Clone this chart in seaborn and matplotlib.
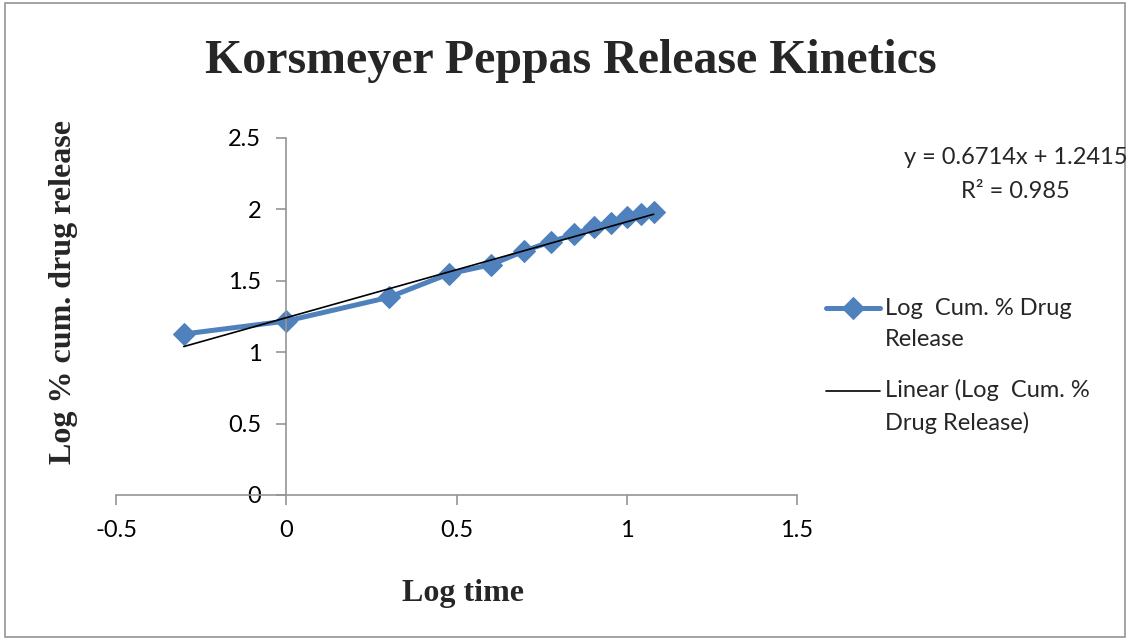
import matplotlib
matplotlib.use("Agg")
import matplotlib.pyplot as plt
import seaborn as sns
import pandas as pd
from matplotlib.patches import Rectangle

# Log time vs log cumulative % drug release
log_time = [-0.301, 0.0, 0.301, 0.477, 0.602, 0.699, 0.778, 0.845, 0.903, 0.954, 1.0, 1.041, 1.079]
log_release = [1.127, 1.218, 1.384, 1.548, 1.613, 1.709, 1.774, 1.825, 1.879, 1.902, 1.944, 1.968, 1.984]

# Linear trend line coefficients
slope = 0.6714
intercept = 1.2415
r_squared = 0.985

x_ticks = [-0.5, 0, 0.5, 1, 1.5]
y_ticks = [0, 0.5, 1, 1.5, 2, 2.5]

sns.set_theme(style="white")
plt.rcParams["font.family"] = ["Lato", "DejaVu Sans"]

blue = "#4F81BD"
axis_grey = "#959595"

fig = plt.figure(figsize=(11.3, 6.4), dpi=100)
ax = fig.add_axes([0.1027, 0.2266, 0.6026, 0.5578])

df = pd.DataFrame({"x": log_time, "y": log_release})
sns.lineplot(data=df, x="x", y="y", ax=ax, color=blue, lw=3.6, marker="D",
             markersize=11, markeredgecolor=blue, label="Log  Cum. % Drug\nRelease",
             zorder=2)

trend_x = [log_time[0], log_time[-1]]
trend = pd.DataFrame({"x": trend_x, "y": [slope * v + intercept for v in trend_x]})
sns.lineplot(data=trend, x="x", y="y", ax=ax, color="black", lw=1.2,
             label="Linear (Log  Cum. %\nDrug Release)", zorder=3)

ax.set_xlim(-0.5, 1.5)
ax.set_ylim(0, 2.5)
ax.set_xticks(x_ticks)
ax.set_yticks(y_ticks)
ax.set_xticklabels([f"{v:g}" for v in x_ticks])
ax.set_yticklabels([f"{v:g}" for v in y_ticks])

for side in ("top", "right"):
    ax.spines[side].set_visible(False)
ax.spines["left"].set_position(("data", 0))
ax.spines["bottom"].set_position(("data", 0))
for side in ("left", "bottom"):
    ax.spines[side].set_color(axis_grey)
    ax.spines[side].set_linewidth(1.2)
ax.tick_params(axis="both", direction="out", length=7, width=1.2, color=axis_grey,
               labelsize=17, labelcolor="black", bottom=True, left=True)
ax.tick_params(axis="x", pad=11)
ax.tick_params(axis="y", pad=11)

ax.set_xlabel("")
ax.set_ylabel("")
serif = ["Liberation Serif", "DejaVu Serif"]
fig.text(0.41, 0.073, "Log time", family=serif, weight="bold", fontsize=23,
         ha="center", va="center")
fig.text(0.056, 0.544, "Log % cum. drug release", family=serif, weight="bold",
         fontsize=23, ha="center", va="center", rotation=90)
fig.text(0.505, 0.905, "Korsmeyer Peppas Release Kinetics", family=serif,
         weight="bold", fontsize=34.5, ha="center", va="center")

fig.text(0.899, 0.727, f"y = {slope}x + {intercept}\nR\u00b2 = {r_squared}",
         fontsize=17, ha="center", va="center", multialignment="center",
         linespacing=1.75)

leg = ax.legend(loc="upper left", bbox_to_anchor=(0.731, 0.535),
                bbox_transform=fig.transFigure, frameon=False, fontsize=17,
                handlelength=2.3, handletextpad=0.2, labelspacing=1.25,
                borderaxespad=0, borderpad=0)
for t in leg.get_texts():
    t.set_linespacing(1.6)
# line the legend keys up with the first line of each two-line label
for h in leg.legend_handles:
    h.set_ydata([y + 11.5 for y in h.get_ydata()])

fig.patches.append(Rectangle((0.004, 0.005), 0.992, 0.99, transform=fig.transFigure,
                             fill=False, edgecolor=axis_grey, lw=1.2))

fig.savefig("out.png", dpi=100)
